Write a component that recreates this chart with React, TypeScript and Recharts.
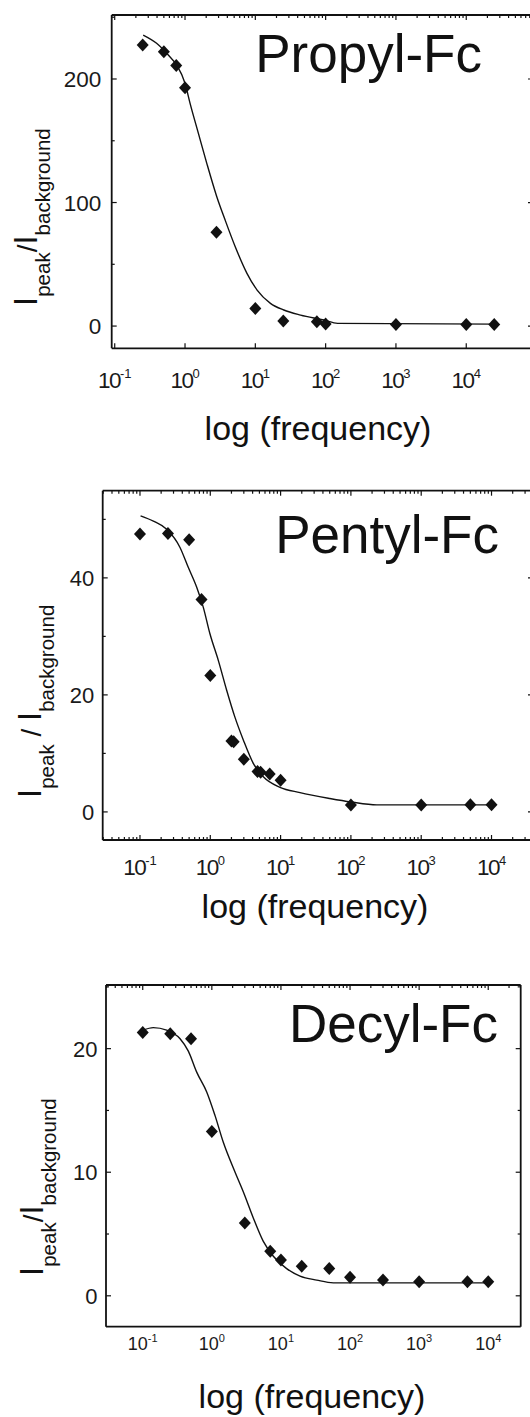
import React from 'react';
import { ComposedChart, XAxis, YAxis, Scatter, Line, Label } from 'recharts';

// measured points (frequency in Hz, I_peak / I_background)
const propylFreq = [0.25, 0.5, 0.75, 1, 2.8, 10, 25, 75, 100, 1000, 10000, 25000];
const propylVal = [227.5, 222, 211, 193, 76, 14.3, 4, 3.5, 1.6, 1.2, 1.2, 1.2];
const propylFitFreq = [0.254, 0.394, 0.578, 0.76, 1, 1.18, 1.55, 2.04, 2.83, 3.72, 5.18, 7.6, 10.6, 16.4, 25.4, 44, 94.6, 148, 25000];
const propylFitVal = [235.6, 228.9, 219.4, 211.3, 196.5, 180.3, 156, 131.7, 104.7, 85.8, 64.2, 42.7, 29.1, 18.4, 13, 8.9, 4.9, 2.2, 1.6];

const pentylFreq = [0.1, 0.25, 0.5, 0.75, 1, 2, 2.15, 3, 4.7, 5.2, 7, 10, 100, 1000, 5000, 10000];
const pentylVal = [47.5, 47.6, 46.5, 36.3, 23.3, 12.1, 12.0, 9.0, 6.9, 6.8, 6.5, 5.4, 1.2, 1.2, 1.24, 1.24];
const pentylFitFreq = [0.102, 0.155, 0.24, 0.371, 0.486, 0.641, 0.794, 0.991, 1.3, 1.71, 2.24, 2.95, 4.09, 5.68, 9.77, 18.9, 50.1, 100, 234, 10000];
const pentylFitVal = [50.6, 49.7, 48.3, 45.2, 41.8, 38.4, 35.0, 30.4, 25.9, 20.8, 16.2, 12.3, 8.3, 6.0, 4.2, 3.3, 2.3, 1.7, 1.2, 1.2];

const decylFreq = [0.1, 0.25, 0.5, 1, 3, 7, 10, 20, 50, 100, 300, 1000, 5000, 10000];
const decylVal = [21.3, 21.2, 20.8, 13.3, 5.9, 3.6, 2.9, 2.4, 2.2, 1.5, 1.27, 1.13, 1.13, 1.13];
const decylFitFreq = [0.102, 0.142, 0.222, 0.347, 0.457, 0.604, 0.843, 1.11, 1.47, 2.17, 2.86, 3.98, 5.56, 7.76, 12.1, 18.9, 33, 57.3, 10000];
const decylFitVal = [21.5, 21.7, 21.5, 20.8, 19.8, 18.1, 16.5, 14.6, 12.4, 10.0, 8.4, 6.3, 4.4, 3.2, 2.2, 1.6, 1.27, 1.05, 1.05];

const xMajor = [0.1, 1, 10, 100, 1000, 10000];

const propylYTicks = [0, 50, 100, 150, 200, 250];
const propylYLabels = [0, 100, 200];
const pentylYTicks = [0, 10, 20, 30, 40, 50];
const pentylYLabels = [0, 20, 40];
const decylYTicks = [0, 5, 10, 15, 20, 25];
const decylYLabels = [0, 10, 20];

const FONT = '"Liberation Sans", Arial, Helvetica, sans-serif';
const INK = '#111';

const zip = (f: number[], v: number[]) => f.map((x, i) => ({ f: x, v: v[i] }));

// all decade + sub-decade positions inside the domain
const logTicks = (lo: number, hi: number) => {
  const out: number[] = [];
  for (let e = -2; e <= 5; e++) {
    for (let m = 1; m <= 9; m++) {
      const v = m * Math.pow(10, e);
      if (v >= lo && v <= hi) out.push(v);
    }
  }
  return out;
};
const isDecade = (v: number) => Math.abs(Math.log10(v) - Math.round(Math.log10(v))) < 1e-6;

const Diamond = (props: any) => {
  const { cx, cy } = props;
  if (cx == null || cy == null) return <g />;
  return <path d={`M${cx},${cy - 6.5}L${cx + 6},${cy}L${cx},${cy + 6.5}L${cx - 6},${cy}Z`} fill={INK} />;
};

function Panel({ cfg }: { cfg: any }) {
  const { W, H, frame } = cfg;
  const allX = logTicks(cfg.xDomain[0], cfg.xDomain[1]);
  const bottomX = cfg.bottomMinor ? allX : xMajor.filter((v) => v >= cfg.xDomain[0] && v <= cfg.xDomain[1]);

  // tick marks sit on the frame, pointing inwards
  const bottomTick = (p: any) => {
    const major = isDecade(p.payload.value);
    const len = major ? 5 : 3;
    const y0 = frame.bottom;
    return (
      <g>
        {cfg.bottomTickLines !== false && (
          <line x1={p.x} x2={p.x} y1={y0} y2={y0 - len} stroke={INK} strokeWidth={1.2} />
        )}
        {major && (
          <text x={p.x} y={y0 + cfg.xTickDy} textAnchor="middle" fontFamily={FONT} fontSize={cfg.xTickFs} fill="#1a1a1a">
            <tspan letterSpacing={cfg.xTickLs}>10</tspan>
            <tspan fontSize={cfg.supFs} dy={cfg.supDy}>{Math.round(Math.log10(p.payload.value))}</tspan>
          </text>
        )}
      </g>
    );
  };

  const topTick = (p: any) => {
    const len = isDecade(p.payload.value) ? 5 : 3;
    return <line x1={p.x} x2={p.x} y1={frame.top} y2={frame.top + len} stroke={INK} strokeWidth={1.2} />;
  };

  const leftTick = (p: any) => {
    const v = p.payload.value;
    const major = cfg.yLabels.includes(v);
    const x0 = frame.left;
    return (
      <g>
        <line x1={x0} x2={x0 + (major ? 5 : 3)} y1={p.y} y2={p.y} stroke={INK} strokeWidth={1.2} />
        {major && (
          <text x={x0 - cfg.yGap} y={p.y} dy="0.36em" textAnchor="end" fontFamily={FONT} fontSize={cfg.yTickFs} fill="#1a1a1a">
            {v}
          </text>
        )}
      </g>
    );
  };

  const rightTick = (p: any) => {
    const major = cfg.yLabels.includes(p.payload.value);
    const x0 = frame.right;
    return <line x1={x0} x2={x0 - (major ? 5 : 3)} y1={p.y} y2={p.y} stroke={INK} strokeWidth={1.2} />;
  };

  const yLabel = () => (
    <text transform={`translate(${cfg.yLab.x},${cfg.yLab.y}) rotate(-90)`} fontFamily={FONT} fill={INK}>
      <tspan fontSize={33}>I</tspan>
      <tspan fontSize={20.5} dy={13}>peak</tspan>
      <tspan fontSize={cfg.slashFs} dy={-13}>{cfg.slash}</tspan>
      <tspan fontSize={33}>I</tspan>
      <tspan fontSize={20.5} dy={13}>background</tspan>
    </text>
  );

  const xLabel = () => (
    <text x={cfg.xLab.x} y={cfg.xLab.y} textAnchor="middle" fontFamily={FONT} fontSize={34} fill={INK}>
      log (frequency)
    </text>
  );

  const title = () => (
    <text x={cfg.title.x} y={cfg.title.y} textAnchor="end" fontFamily={FONT} fontSize={53} fill={INK}>
      {cfg.title.text}
    </text>
  );

  const axisLine = { stroke: INK, strokeWidth: 1.8 };

  return (
    <div style={{ position: 'absolute', left: 0, top: cfg.top, width: W, height: H }}>
      <ComposedChart
        width={W}
        height={H}
        margin={{ top: frame.top - 1, right: W - frame.right - 1, bottom: 0, left: 0 }}
      >
        <XAxis
          xAxisId="b"
          dataKey="f"
          type="number"
          scale="log"
          domain={cfg.xDomain}
          allowDataOverflow
          ticks={bottomX}
          interval={0}
          height={H - frame.bottom}
          tickLine={false}
          axisLine={axisLine}
          tick={bottomTick}
        >
          <Label content={xLabel} />
        </XAxis>
        <XAxis
          xAxisId="t"
          dataKey="f"
          orientation="top"
          type="number"
          scale="log"
          domain={cfg.xDomain}
          allowDataOverflow
          ticks={allX}
          interval={0}
          height={1}
          tickLine={false}
          axisLine={axisLine}
          tick={topTick}
        >
          <Label content={title} />
        </XAxis>
        <YAxis
          yAxisId="l"
          dataKey="v"
          type="number"
          domain={cfg.yDomain}
          allowDataOverflow
          ticks={cfg.yTicks}
          interval={0}
          width={frame.left}
          tickLine={false}
          axisLine={axisLine}
          tick={leftTick}
        >
          <Label content={yLabel} />
        </YAxis>
        <YAxis
          yAxisId="r"
          dataKey="v"
          orientation="right"
          type="number"
          domain={cfg.yDomain}
          allowDataOverflow
          ticks={cfg.yTicks}
          interval={0}
          width={1}
          tickLine={false}
          axisLine={axisLine}
          tick={rightTick}
        />
        {/* invisible copy on the top/right axes so those frame sides get drawn */}
        <Line
          xAxisId="t"
          yAxisId="r"
          data={cfg.fit}
          dataKey="v"
          stroke="none"
          dot={false}
          activeDot={false}
          isAnimationActive={false}
        />
        <Line
          xAxisId="b"
          yAxisId="l"
          data={cfg.fit}
          dataKey="v"
          type="monotone"
          stroke={INK}
          strokeWidth={1.4}
          dot={false}
          activeDot={false}
          isAnimationActive={false}
        />
        <Scatter
          xAxisId="b"
          yAxisId="l"
          data={cfg.points}
          dataKey="v"
          shape={Diamond}
          isAnimationActive={false}
        />
      </ComposedChart>
    </div>
  );
}

const panels = [
  {
    top: 0, W: 540, H: 450,
    frame: { left: 111.7, top: 15, right: 533, bottom: 348.3 },
    xDomain: [0.0906, 89000], yDomain: [-18, 251.8],
    yTicks: propylYTicks, yLabels: propylYLabels,
    points: zip(propylFreq, propylVal), fit: zip(propylFitFreq, propylFitVal),
    bottomMinor: false,
    xTickFs: 22.5, xTickLs: -1.5, supFs: 13, supDy: -10, xTickDy: 40,
    yTickFs: 22.5, yGap: 10.5,
    title: { text: 'Propyl-Fc', x: 482, y: 71.7 },
    yLab: { x: 37, y: 306 }, slash: '/', slashFs: 28,
    xLab: { x: 318, y: 440 },
  },
  {
    top: 460, W: 540, H: 470,
    frame: { left: 102.7, top: 30.7, right: 533, bottom: 380 },
    xDomain: [0.0295, 38900], yDomain: [-4.8, 54.9],
    yTicks: pentylYTicks, yLabels: pentylYLabels,
    points: zip(pentylFreq, pentylVal), fit: zip(pentylFitFreq, pentylFitVal),
    bottomMinor: true,
    xTickFs: 22.5, xTickLs: -1.5, supFs: 13, supDy: -10, xTickDy: 35,
    yTickFs: 22, yGap: 8.4,
    title: { text: 'Pentyl-Fc', x: 499, y: 93.3 },
    yLab: { x: 41, y: 338 }, slash: ' / ', slashFs: 28,
    xLab: { x: 315, y: 458 },
  },
  {
    top: 950, W: 530, H: 467,
    frame: { left: 106, top: 35, right: 520.7, bottom: 376.7 },
    xDomain: [0.0294, 29500], yDomain: [-2.5, 25.15],
    yTicks: decylYTicks, yLabels: decylYLabels,
    points: zip(decylFreq, decylVal), fit: zip(decylFitFreq, decylFitVal),
    bottomMinor: false, bottomTickLines: false,
    xTickFs: 18, xTickLs: 0, supFs: 11, supDy: -8, xTickDy: 23.3,
    yTickFs: 22, yGap: 8.4,
    title: { text: 'Decyl-Fc', x: 498, y: 91.7 },
    yLab: { x: 43, y: 326 }, slash: '/', slashFs: 28,
    xLab: { x: 312, y: 458 },
  },
];

export default function App() {
  return (
    <div
      style={{
        position: 'absolute',
        left: 0,
        top: 0,
        width: 530,
        height: 1417,
        overflow: 'hidden',
        background: '#fff',
      }}
    >
      {panels.map((p, i) => (
        <Panel key={i} cfg={p} />
      ))}
    </div>
  );
}
